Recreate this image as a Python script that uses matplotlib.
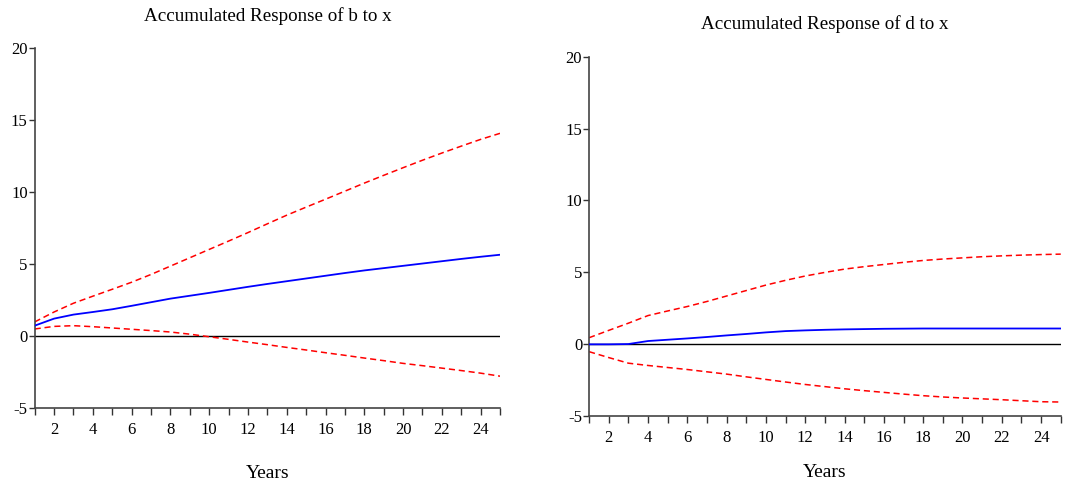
import matplotlib
matplotlib.use("Agg")
import matplotlib.pyplot as plt
from matplotlib.ticker import FixedLocator

plt.rcParams['font.family'] = ['Liberation Serif', 'DejaVu Serif']

periods = list(range(1, 26))

# Left panel: b to x
b_resp = [0.72, 1.21, 1.49, 1.67, 1.86, 2.10, 2.35, 2.60, 2.80, 3.00, 3.21, 3.42, 3.62, 3.81,
          4.00, 4.19, 4.38, 4.56, 4.72, 4.88, 5.04, 5.20, 5.36, 5.51, 5.65]
b_upper = [0.98, 1.67, 2.28, 2.77, 3.25, 3.74, 4.28, 4.86, 5.44, 6.02, 6.60, 7.19, 7.80, 8.40,
           8.96, 9.51, 10.07, 10.63, 11.17, 11.70, 12.22, 12.72, 13.20, 13.67, 14.09]
b_lower = [0.49, 0.67, 0.72, 0.65, 0.56, 0.47, 0.38, 0.28, 0.13, -0.05, -0.23, -0.42, -0.60, -0.79,
           -0.97, -1.16, -1.34, -1.53, -1.71, -1.90, -2.06, -2.23, -2.40, -2.58, -2.79]

# Right panel: d to x
d_resp = [0.0, 0.0, 0.02, 0.23, 0.32, 0.41, 0.51, 0.62, 0.72, 0.83, 0.92, 0.97, 1.01, 1.04,
          1.06, 1.08, 1.09, 1.10, 1.10, 1.10, 1.10, 1.10, 1.10, 1.10, 1.10]
d_upper = [0.46, 0.97, 1.47, 2.00, 2.32, 2.63, 2.98, 3.36, 3.74, 4.12, 4.45, 4.75, 5.00, 5.23,
           5.40, 5.55, 5.70, 5.83, 5.93, 6.01, 6.09, 6.15, 6.20, 6.24, 6.27]
d_lower = [-0.51, -0.92, -1.31, -1.47, -1.61, -1.75, -1.91, -2.07, -2.26, -2.44, -2.62, -2.79, -2.94, -3.09,
           -3.22, -3.34, -3.46, -3.57, -3.66, -3.73, -3.79, -3.85, -3.92, -3.99, -4.01]

titles = ["Accumulated Response of b to x", "Accumulated Response of d to x"]
xlabel = "Years"
yticks = [-5, 0, 5, 10, 15, 20]
xticklabels_pos = list(range(2, 26, 2))

fig = plt.figure(figsize=(10.73, 4.88), dpi=100)
ax1 = fig.add_axes([0.0323, 0.164, 0.4337, 0.737])
ax2 = fig.add_axes([0.549, 0.147, 0.4396, 0.737])

panels = [
    (ax1, b_resp, b_upper, b_lower, titles[0], 19.5),
    (ax2, d_resp, d_upper, d_lower, titles[1], 13),
]

for ax, resp, up, lo, title, lpad in panels:
    ax.axhline(0, color='black', lw=1.0, zorder=1)
    ax.plot(periods, up, color='#ff0000', lw=1.1, ls=(0, (4, 2.5)), zorder=2)
    ax.plot(periods, lo, color='#ff0000', lw=1.1, ls=(0, (4, 2.5)), zorder=2)
    ax.plot(periods, resp, color='#0000ff', lw=1.3, zorder=3)
    ax.set_xlim(1, 25)
    ax.set_ylim(-5, 20)
    ax.set_yticks(yticks)
    ax.set_yticklabels([str(v) for v in yticks])
    ax.xaxis.set_major_locator(FixedLocator(xticklabels_pos))
    ax.xaxis.set_minor_locator(FixedLocator([p for p in periods if p not in xticklabels_pos]))
    ax.set_xticklabels([str(v) for v in xticklabels_pos])
    ax.tick_params(axis='x', which='both', direction='out', length=5, width=1, pad=5,
                   labelsize=12, color='#333333')
    ax.tick_params(axis='y', which='both', direction='out', length=4, width=1, pad=1,
                   labelsize=12, color='#333333')
    for s in ['top', 'right']:
        ax.spines[s].set_visible(False)
    for s in ['left', 'bottom']:
        ax.spines[s].set_color('#444444')
        ax.spines[s].set_linewidth(1.2)
    ax.set_title(title, fontsize=13.7, pad=20)
    ax.set_xlabel(xlabel, fontsize=14, labelpad=lpad)

fig.savefig("out.png", dpi=100)
